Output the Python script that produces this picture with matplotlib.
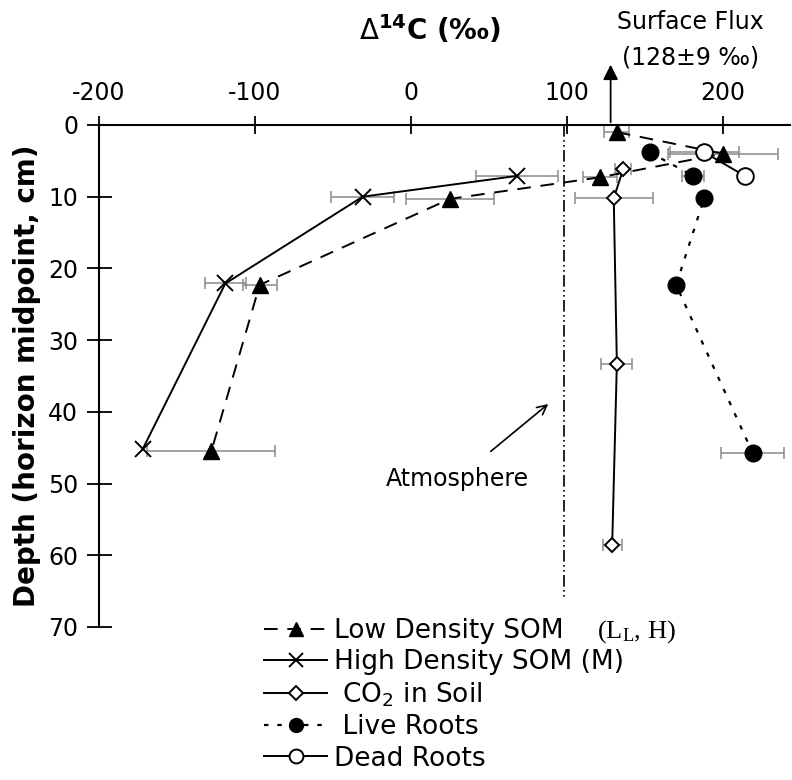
import matplotlib
matplotlib.use("Agg")
import matplotlib.pyplot as plt
import numpy as np
from matplotlib.lines import Line2D

plt.rcParams['font.family'] = ['DejaVu Sans']
plt.rcParams['axes.unicode_minus'] = False

# Delta14C (permil) against depth (cm)
low_x = [132, 200, 121, 25, -97, -128]
low_y = [1, 4, 7.3, 10.3, 22.3, 45.5]
low_err = [8, 35, 11, 28, 11, 41]

high_x = [68, -31, -119, -172]
high_y = [7.1, 10, 22.1, 45.2]
high_err = [26, 20, 13, 0]

co2_x = [136, 130, 132, 129]
co2_y = [6.2, 10.2, 33.3, 58.5]
co2_err = [5, 25, 10, 6]

live_x = [153, 181, 188, 170, 219]
live_y = [3.8, 7.1, 10.2, 22.3, 45.7]
live_err = [0, 7, 0, 0, 20]

dead_x = [188, 214]
dead_y = [3.8, 7.1]
dead_err = [22, 0]

atmosphere = 98
surface_flux = 128

x_ticks = [-200, -100, 0, 100, 200]
y_ticks = [0, 10, 20, 30, 40, 50, 60, 70]

W, H = 792, 780
fig = plt.figure(figsize=(W / 100, H / 100), dpi=100)
ax = fig.add_axes((99 / W, 1 - 627 / H, 691 / W, 502 / H))
ax.set_xlim(-200, 243)
ax.set_ylim(70, 0)

for s in ('right', 'bottom'):
    ax.spines[s].set_visible(False)
ax.spines['top'].set_linewidth(1.5)
ax.spines['left'].set_linewidth(1.5)
ax.xaxis.tick_top()
ax.set_xticks(x_ticks)
ax.set_yticks(y_ticks)
ax.tick_params(axis='x', direction='inout', length=13, width=1.3, labelsize=17, pad=8)
ax.tick_params(axis='y', direction='inout', length=18, width=1.3, labelsize=17, pad=6)


def errs(x, y, e):
    x, y, e = map(np.asarray, (x, y, e))
    m = e > 0
    ax.errorbar(x[m], y[m], xerr=e[m], fmt='none', ecolor='#8a8a8a',
                elinewidth=1.1, capsize=4, capthick=1.1, zorder=1)


errs(low_x, low_y, low_err)
errs(high_x, high_y, high_err)
errs(co2_x, co2_y, co2_err)
errs(live_x, live_y, live_err)
errs(dead_x, dead_y, dead_err)

# atmosphere line
ax.plot([atmosphere, atmosphere], [0, 65.8], color='black', lw=1.2,
        dashes=(7, 2, 1, 2, 1, 2), zorder=2)

st_low = dict(color='black', ls=(0, (7, 5)), lw=1.4, marker='^', ms=12, mfc='black', mec='black')
st_high = dict(color='black', ls='-', lw=1.4, marker='x', ms=12, mew=1.4, mec='black')
st_co2 = dict(color='black', ls='-', lw=1.4, marker='D', ms=7.5, mfc='white', mec='black', mew=1.4)
st_live = dict(color='black', ls=(0, (2, 4)), lw=1.6, marker='o', ms=12, mfc='black', mec='black')
st_dead = dict(color='black', ls='-', lw=1.4, marker='o', ms=12, mfc='white', mec='black', mew=1.4)

ax.plot(low_x, low_y, zorder=3, **st_low)
ax.plot(high_x, high_y, zorder=3, **st_high)
ax.plot(co2_x, co2_y, zorder=3, **st_co2)
ax.plot(live_x, live_y, zorder=3, **st_live)
ax.plot(dead_x, dead_y, zorder=3, **st_dead)

# surface flux arrow
ax.annotate('', xy=(surface_flux, -8.8), xytext=(surface_flux, 0), annotation_clip=False,
            arrowprops=dict(arrowstyle='-|>,head_length=0.9,head_width=0.45', color='black', lw=1.3))
fig.text(690 / W, 1 - 22 / H, 'Surface Flux', ha='center', va='center', fontsize=17)
fig.text(691 / W, 1 - 57 / H, '(128\u00b19 \u2030)', ha='center', va='center', fontsize=17)

ax.annotate('Atmosphere', xy=(88, 38.9), xytext=(30, 49.3), ha='center', va='center', fontsize=17,
            arrowprops=dict(arrowstyle='->', color='black', lw=1.2, shrinkA=14, shrinkB=0))

fig.text(430 / W, 1 - 30 / H, r'$\Delta^{\mathbf{14}}$C (' + '\u2030)', ha='center', va='center',
         fontsize=20, fontweight='bold')
fig.text(27 / W, 1 - 376 / H, 'Depth (horizon midpoint, cm)', rotation=90, ha='center',
         va='center', fontsize=20, fontweight='bold')

handles = [Line2D([], [], **{**st_low, 'ms': 10}),
           Line2D([], [], **{**st_high, 'ms': 10}),
           Line2D([], [], **st_co2),
           Line2D([], [], **{**st_live, 'ms': 10}),
           Line2D([], [], **{**st_dead, 'ms': 10})]
labels = ['Low Density SOM', 'High Density SOM (M)', r' CO$_2$ in Soil', ' Live Roots', 'Dead Roots']
fig.legend(handles, labels, loc='upper left', bbox_to_anchor=(264 / W, 1 - 618 / H),
           frameon=False, fontsize=19, handlelength=2.4, handletextpad=0.25,
           labelspacing=0.2, borderpad=0, borderaxespad=0)
fig.text(597 / W, 1 - 632 / H, r'(L$\mathregular{_L}$, H)', ha='left', va='center',
         fontsize=19, family='Liberation Serif')

fig.savefig('out.png', dpi=100)
